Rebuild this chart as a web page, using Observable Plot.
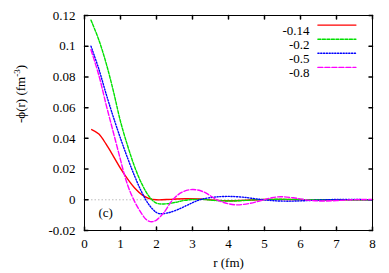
<!DOCTYPE html>
<html><head><meta charset="utf-8">
<script src="https://cdn.jsdelivr.net/npm/d3@7"></script>
<script src="https://cdn.jsdelivr.net/npm/@observablehq/plot@0.6"></script>
<style>
body{margin:0;background:#fff;}
</style>
</head><body><div id="chart"></div>
<script>
// r (fm) and -phi(r) (fm^-3) for each series
const rA = [0.2,0.4,0.6,0.8,1.0,1.2,1.4,1.6,1.8,2.0,2.4,2.8,3.2,3.6,4.0,4.4,5.0,6.0,7.0,8.0];
const vA = [0.0457,0.0428,0.0362,0.0285,0.0205,0.0135,0.0075,0.0032,0.0008,0.0,0.0003,0.0007,0.0005,-0.0002,-0.0006,-0.0004,0.0002,0.0001,0,0];
const rB = [0.18,0.4,0.6,0.8,1.0,1.2,1.4,1.6,1.8,2.0,2.2,2.5,2.8,3.2,3.6,4.0,4.4,5.0,5.6,6.5,7.5,8.0];
const vB = [0.117,0.104,0.089,0.071,0.051,0.035,0.021,0.010,0.002,-0.0022,-0.0027,-0.0018,-0.0003,0.0003,-0.0004,-0.0008,-0.0005,0.0002,0.0003,0,0,0];
const rC = [0.18,0.4,0.6,0.8,1.0,1.2,1.4,1.6,1.8,2.0,2.1,2.3,2.6,2.9,3.2,3.6,4.0,4.4,4.8,5.2,5.6,6.0,6.5,7.0,7.5,8.0];
const vC = [0.100,0.085,0.069,0.054,0.040,0.027,0.015,0.0045,-0.0035,-0.0083,-0.0091,-0.0086,-0.0063,-0.003,0.0,0.0017,0.0022,0.0017,0.0005,-0.0005,-0.0009,-0.0007,-0.0002,0.0002,0.0002,0.0];
const rD = [0.18,0.4,0.6,0.8,1.0,1.1,1.2,1.3,1.4,1.5,1.6,1.7,1.8,1.9,2.0,2.2,2.45,2.7,3.0,3.3,3.68,4.0,4.25,4.6,4.9,5.2,5.45,5.8,6.2,6.6,7.0,7.5,8.0];
const vD = [0.0977,0.081,0.062,0.044,0.026,0.017,0.0095,0.0035,-0.0015,-0.0058,-0.0095,-0.0125,-0.0141,-0.0142,-0.0132,-0.0085,0.0,0.0048,0.0067,0.0052,0.0,-0.0026,-0.0033,-0.0023,-0.0005,0.0013,0.002,0.0013,-0.0002,-0.0008,-0.0005,0.0001,0.0002];

const seriesLabels = ["-0.14","-0.2","-0.5","-0.8"];
const seriesR = [rA, rB, rC, rD];
const seriesV = [vA, vB, vC, vD];
const colors = ["#ff0000","#00e000","#0000ff","#ff00ff"];
const dashes = [null,"3,1.5","1.2,1.6","5,2"];

const xTicks = [0,1,2,3,4,5,6,7,8];
const xTickLabels = ["0","1","2","3","4","5","6","7","8"];
const yTicks = [-0.02,0,0.02,0.04,0.06,0.08,0.1,0.12];
const yTickLabels = ["-0.02","0","0.02","0.04","0.06","0.08","0.1","0.12"];
const xLabel = "r (fm)";
const yLabel = "-\u03D5(r) (fm-3)";
const panelLabel = "(c)";

const rows = [];
seriesLabels.forEach((k, s) => seriesR[s].forEach((r, i) => rows.push({key: k, r, v: seriesV[s][i]})));

const tickShape = {draw(ctx, l) { ctx.moveTo(0, 0); ctx.lineTo(0, -l); }};
const tl = 3.5;
const tickMarks = [
  Plot.vector(xTicks, {x: d => d, y: () => -0.02, length: tl, rotate: 0, anchor: "start", shape: tickShape, stroke: "#000"}),
  Plot.vector(xTicks, {x: d => d, y: () => 0.12, length: tl, rotate: 180, anchor: "start", shape: tickShape, stroke: "#000"}),
  Plot.vector(yTicks, {x: () => 0, y: d => d, length: tl, rotate: 90, anchor: "start", shape: tickShape, stroke: "#000"}),
  Plot.vector(yTicks, {x: () => 8, y: d => d, length: tl, rotate: 270, anchor: "start", shape: tickShape, stroke: "#000"})
];

const lineMarks = seriesLabels.map((k, s) => Plot.line(rows.filter(d => d.key === k), {
  x: "r", y: "v", stroke: colors[s], strokeWidth: 1.4, strokeDasharray: dashes[s], curve: "catmull-rom"
}));

const legendMarks = seriesLabels.flatMap((k, s) => [
  Plot.text([k], {frameAnchor: "top-right", dx: -63, dy: 9.8 + s * 14.1, textAnchor: "end", fontSize: 13, fill: "#000"}),
  Plot.vector([k], {frameAnchor: "top-right", dx: -54.6, dy: 9.6 + s * 14.1, length: 38, rotate: 90, anchor: "start", shape: tickShape, stroke: colors[s], strokeWidth: 1.4, strokeDasharray: dashes[s]})
]);

const chart = Plot.plot({
  width: 389, height: 273,
  marginLeft: 84, marginRight: 17, marginTop: 15, marginBottom: 43,
  x: {domain: [0, 8]},
  y: {domain: [-0.02, 0.12]},
  style: {fontSize: "13px", color: "#000", background: "#fff"},
  marks: [
    Plot.ruleY([0], {stroke: "#aaaaaa", strokeDasharray: "1.5,2", strokeWidth: 0.8}),
    Plot.axisX(xTicks, {tickSize: 0, tickPadding: 8, tickFormat: d => xTickLabels[xTicks.indexOf(d)], label: null, fontSize: 13}),
    Plot.axisY(yTicks, {tickSize: 0, tickPadding: 9, tickFormat: d => yTickLabels[yTicks.indexOf(d)], label: null, fontSize: 13}),
    ...tickMarks,
    ...lineMarks,
    Plot.frame({stroke: "#000", strokeWidth: 1}),
    ...legendMarks,
    Plot.text([xLabel], {frameAnchor: "bottom", dy: 36, fontSize: 13, fill: "#000"}),
    Plot.text([yLabel], {frameAnchor: "left", dx: -64, rotate: -90, fontSize: 13, fill: "#000"}),
    Plot.text([panelLabel], {frameAnchor: "bottom-left", dx: 14, dy: -14, fontSize: 13, fill: "#000"})
  ]
});
chart.setAttribute("font-family", "Liberation Serif");
chart.style.fontFamily = "'Liberation Serif', serif";
chart.querySelectorAll("g, text").forEach(el => {
  el.setAttribute("font-family", "Liberation Serif");
  el.style.fontFamily = "'Liberation Serif', serif";
});
document.getElementById("chart").appendChild(chart);

// superscript for the unit in the y label
chart.querySelectorAll("text").forEach(t => {
  if (t.textContent === yLabel) {
    while (t.firstChild) t.removeChild(t.firstChild);
    const ns = "http://www.w3.org/2000/svg";
    const a = document.createElementNS(ns, "tspan"); a.textContent = "-\u03D5(r) (fm";
    const b = document.createElementNS(ns, "tspan"); b.textContent = "-3"; b.setAttribute("dy", "-5"); b.setAttribute("font-size", "9");
    const c = document.createElementNS(ns, "tspan"); c.textContent = ")"; c.setAttribute("dy", "5");
    t.append(a, b, c);
  }
});
</script>
</body></html>
